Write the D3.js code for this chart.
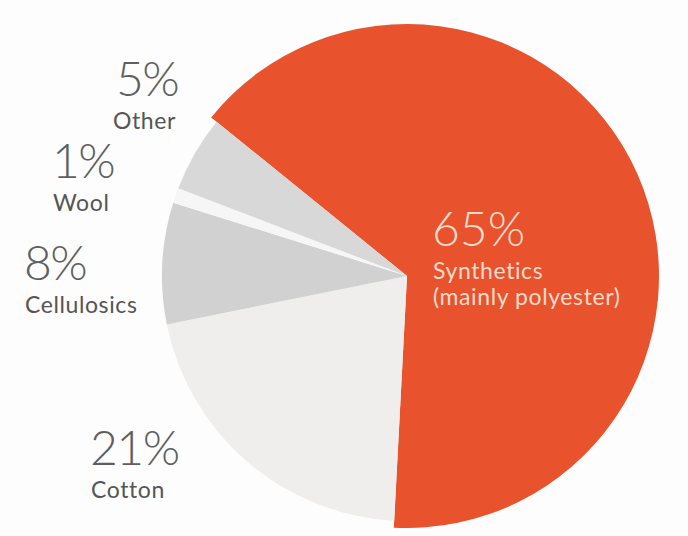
<!DOCTYPE html>
<html>
<head>
<meta charset="utf-8">
<script src="https://cdn.jsdelivr.net/npm/d3@7"></script>
<style>
  html, body { margin: 0; padding: 0; background: #fdfdfd; }
  svg { display: block; }
  .pct { font-family: Lato, "Open Sans", sans-serif; font-weight: 300; }
  .name { font-family: Lato, "Open Sans", sans-serif; font-weight: 400; }
</style>
</head>
<body>
<svg width="688" height="536"></svg>
<script>
// fibre shares, clockwise from the top-left edge of the red slice
var fibres = ["Synthetics", "Cotton", "Cellulosics", "Wool", "Other"];
var shares = [65, 21, 8, 1, 5];
var pctLabels = ["65%", "21%", "8%", "1%", "5%"];
var nameLines = [["Synthetics", "(mainly polyester)"], ["Cotton"], ["Cellulosics"], ["Wool"], ["Other"]];
var colors = ["#e8532e", "#efeeec", "#d1d1d1", "#f6f6f6", "#d8d8d8"];

function paint() {
  var svg = d3.select("svg");
  svg.selectAll("g").remove();

  const cx = 407, cy = 276;

  const data = fibres.map((f, i) => ({ name: f, value: shares[i], i: i }));

  const pie = d3.pie()
    .sort(null)
    .value(d => d.value)
    .startAngle(-51 * Math.PI / 180)
    .endAngle(309 * Math.PI / 180);

  const arc = d3.arc()
    .innerRadius(0)
    .outerRadius(d => d.data.i === 0 ? 252 : 245);

  const chart = svg.append("g")
    .attr("transform", `translate(${cx}, ${cy})`);

  chart.selectAll("path")
    .data(pie(data))
    .enter()
    .append("path")
    .attr("d", arc)
    .attr("fill", d => colors[d.data.i]);

  // label anchors (left edge, baseline of the percentage)
  const labelPos = [
    { x: 432, y: 246, pc: "#f7dccb", nc: "#f7dccb" },
    { x: 90, y: 465, pc: "#5f5f5f", nc: "#555" },
    { x: 24, y: 280, pc: "#5f5f5f", nc: "#555" },
    { x: 52, y: 178, pc: "#5f5f5f", nc: "#555" },
    { x: 116, y: 96, pc: "#5f5f5f", nc: "#555" }
  ];

  const labels = svg.append("g").selectAll("g")
    .data(data)
    .enter()
    .append("g")
    .attr("transform", d => `translate(${labelPos[d.i].x}, ${labelPos[d.i].y})`);

  labels.append("text")
    .attr("class", "pct")
    .attr("font-size", 48)
    .attr("letter-spacing", d => d.i === 0 ? 0 : -1.5)
    .attr("fill", d => labelPos[d.i].pc)
    .text(d => pctLabels[d.i]);

  labels.each(function (d) {
    const g = d3.select(this);
    nameLines[d.i].forEach((line, k) => {
      g.append("text")
        .attr("class", "name")
        .attr("x", d.i === 4 ? -3 : 1)
        .attr("y", 33 + k * 26)
        .attr("font-size", 23)
        .attr("letter-spacing", 0.6)
        .attr("fill", labelPos[d.i].nc)
        .text(line);
    });
  });
}

paint();
</script>
</body>
</html>
